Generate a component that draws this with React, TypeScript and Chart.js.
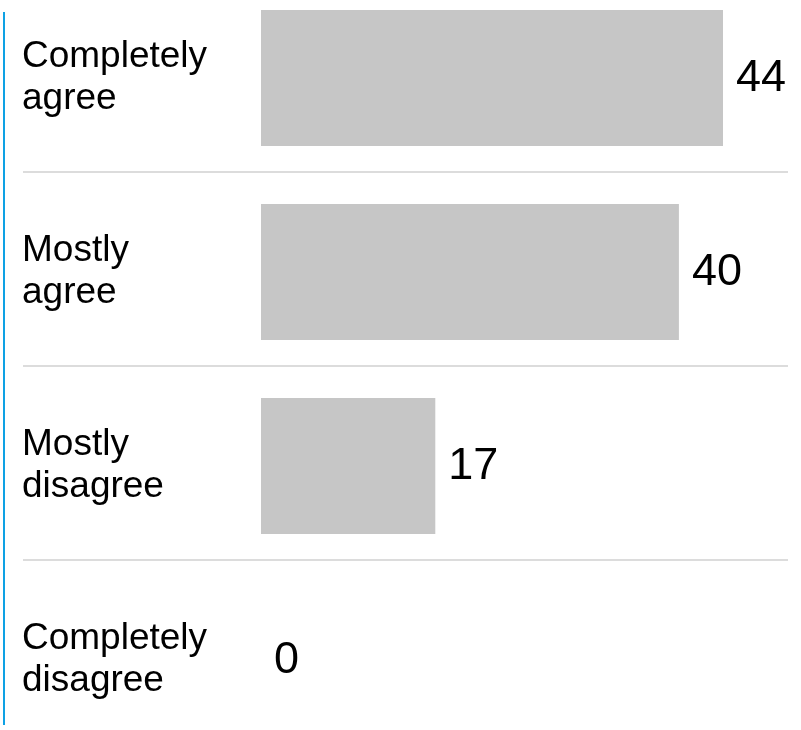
import React, { useEffect, useRef } from "react";
import { Chart, registerables } from "chart.js";

Chart.register(...registerables);

const categories: string[][] = [
  ["Completely", "agree"],
  ["Mostly", "agree"],
  ["Mostly", "disagree"],
  ["Completely", "disagree"],
];
const values: number[] = [44, 39.8, 16.6, 0];

const FONT = "'Liberation Sans', Arial, Helvetica, sans-serif";

const separatorPlugin = {
  id: "separators",
  beforeDatasetsDraw(chart: any) {
    const { ctx, scales } = chart;
    const y = scales.y;
    ctx.save();
    ctx.strokeStyle = "#dcdcdc";
    ctx.lineWidth = 2;
    for (let i = 0; i < categories.length - 1; i++) {
      const py = (y.getPixelForValue(i) + y.getPixelForValue(i + 1)) / 2 - 3;
      ctx.beginPath();
      ctx.moveTo(23, py);
      ctx.lineTo(788, py);
      ctx.stroke();
    }
    ctx.restore();
  },
};

const valueLabelPlugin = {
  id: "valueLabels",
  afterDatasetsDraw(chart: any) {
    const { ctx } = chart;
    const meta = chart.getDatasetMeta(0);
    ctx.save();
    ctx.font = `45px ${FONT}`;
    ctx.fillStyle = "#000";
    ctx.textAlign = "left";
    ctx.textBaseline = "middle";
    meta.data.forEach((bar: any, i: number) => {
      ctx.fillText(String(Math.round(values[i])), bar.x + 13, bar.y + 1);
    });
    ctx.restore();
  },
};

export default function App() {
  const ref = useRef<HTMLCanvasElement | null>(null);

  useEffect(() => {
    if (!ref.current) return;
    const chart = new Chart(ref.current, {
      type: "bar",
      data: {
        labels: categories,
        datasets: [
          {
            data: values,
            backgroundColor: "#c6c6c6",
            borderWidth: 0,
            categoryPercentage: 1,
            barPercentage: 0.7,
          },
        ],
      },
      options: {
        indexAxis: "y",
        responsive: false,
        animation: false,
        layout: { padding: { left: 22, right: 15, top: 0, bottom: 0 } },
        plugins: {
          legend: { display: false },
          tooltip: { enabled: false },
        },
        scales: {
          x: {
            display: false,
            min: 0,
            max: 50,
          },
          y: {
            afterFit: (s: any) => {
              s.width = 239;
              s.paddingTop = 0;
              s.paddingBottom = 0;
            },
            grid: { display: false },
            border: { display: false },
            ticks: {
              crossAlign: "far",
              color: "#000",
              font: { family: FONT, size: 37, lineHeight: 1.135 },
            },
          },
        },
      },
      plugins: [separatorPlugin, valueLabelPlugin],
    });
    return () => chart.destroy();
  }, []);

  return (
    <div
      style={{
        position: "absolute",
        left: 0,
        top: 0,
        width: 801,
        height: 730,
        overflow: "hidden",
        background: "#fff",
      }}
    >
      <div
        style={{
          position: "absolute",
          left: 3,
          top: 12,
          width: 2,
          height: 713,
          background: "#0ea1e4",
        }}
      />
      <div style={{ position: "absolute", left: 0, top: -19, width: 801, height: 776 }}>
        <canvas ref={ref} width={801} height={776} style={{ display: "block" }} />
      </div>
    </div>
  );
}
